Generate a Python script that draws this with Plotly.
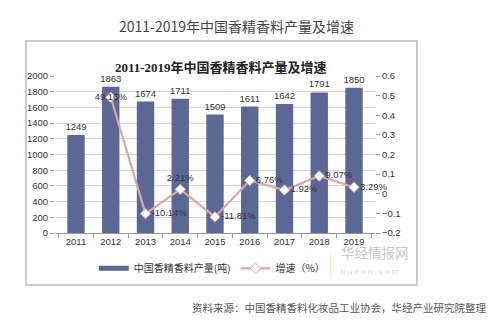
import plotly.graph_objects as go

# Annual output of flavours & fragrances in China and its year-on-year growth
years = ["2011", "2012", "2013", "2014", "2015", "2016", "2017", "2018", "2019"]
output_tons = [1249, 1863, 1674, 1711, 1509, 1611, 1642, 1791, 1850]
growth = [None, 0.4916, -0.1014, 0.0221, -0.1181, 0.0676, 0.0192, 0.0907, 0.0329]
growth_labels = ["", "49.16%", "-10.14%", "2.21%", "-11.81%", "6.76%", "1.92%", "9.07%", "3.29%"]
growth_label_pos = ["middle right", "middle center", "middle right", "top center", "middle right",
                    "middle right", "middle right", "middle right", "middle right"]

BAR_COLOR = "#5b6896"
LINE_COLOR = "#d8a8a8"
CJK = "Noto Sans CJK SC, Liberation Sans, sans-serif"
LAT = "Liberation Sans, Arial, sans-serif"

fig = go.Figure()

fig.add_trace(go.Bar(
    x=years, y=output_tons, name="中国香精香料产量(吨)",
    marker=dict(color=BAR_COLOR, line=dict(width=0)),
    text=[str(v) for v in output_tons], textposition="outside", constraintext="none",
    textfont=dict(family=LAT, size=9.5, color="#333"),
    cliponaxis=False, showlegend=False, yaxis="y",
))
# legend stand-in for the bars (flat rectangle symbol)
fig.add_trace(go.Scatter(
    x=[None], y=[None], mode="lines", name="中国香精香料产量(吨)",
    line=dict(color=BAR_COLOR, width=5), yaxis="y",
))
fig.add_trace(go.Scatter(
    x=years, y=growth, name="增速（%）", mode="lines+markers+text",
    line=dict(color=LINE_COLOR, width=2.2),
    marker=dict(symbol="diamond", size=8, color="white", line=dict(color=LINE_COLOR, width=1)),
    text=growth_labels, textposition=growth_label_pos,
    textfont=dict(family=LAT, size=9.5, color="#333"),
    cliponaxis=False, yaxis="y2",
))

fig.update_layout(
    width=499, height=334,
    margin=dict(l=55, r=124, t=76, b=101),
    paper_bgcolor="white", plot_bgcolor="white",
    bargap=0.5,
    showlegend=True,
    legend=dict(orientation="h", x=0.49, xanchor="center", y=-0.225, yanchor="middle",
                font=dict(family=CJK, size=10, color="#333"), itemwidth=30,
                tracegroupgap=0, traceorder="normal"),
    xaxis=dict(
        type="category", showgrid=False, showline=True, linecolor="#999", linewidth=1,
        ticks="outside", tickson="boundaries", ticklen=4, tickcolor="#999",
        tickfont=dict(family=LAT, size=9.5, color="#333"),
    ),
    yaxis=dict(
        range=[0, 2000], dtick=200, showgrid=True, gridcolor="#d4d4d4", gridwidth=1,
        zeroline=False, showline=False, ticks="outside", ticklen=4, tickcolor="#999",
        tickfont=dict(family=LAT, size=9.5, color="#333"),
    ),
    yaxis2=dict(
        overlaying="y", side="right", range=[-0.2, 0.6], dtick=0.1, showgrid=False,
        zeroline=False, showline=False, ticks="outside", ticklen=4, tickcolor="#999",
        tickformat=".1~f", tickfont=dict(family=LAT, size=9.5, color="#333"),
    ),
)

# frame around the inner chart
fig.add_shape(type="rect", xref="paper", yref="paper",
              x0=-0.0906, x1=1.131, y0=-0.331, y1=1.223,
              line=dict(color="#bdbdbd", width=1.5), fillcolor="rgba(0,0,0,0)", layer="below")

fig.add_annotation(text="2011-2019年中国香精香料产量及增速", xref="paper", yref="paper",
                   x=0.566, y=1.395, showarrow=False,
                   font=dict(family=CJK, size=14, color="#444"))
fig.add_annotation(text="<b>2011-2019年中国香精香料产量及增速</b>", xref="paper", yref="paper",
                   x=0.519, y=1.115, showarrow=False,
                   font=dict(family="Liberation Serif, Noto Sans CJK SC, serif", size=13, color="#222"))
fig.add_annotation(text="资料来源：中国香精香料化妆品工业协会，华经产业研究院整理",
                   xref="paper", yref="paper", x=1.353, y=-0.535, xanchor="right",
                   showarrow=False, font=dict(family=CJK, size=10.5, color="#555"))

# watermark: book icon plus site name
fig.add_shape(type="path", xref="paper", yref="paper",
              path="M 0.797,-0.13 L 0.828,-0.165 L 0.828,-0.315 L 0.797,-0.28 Z",
              fillcolor="rgba(140,185,235,0.55)", line=dict(width=0))
fig.add_shape(type="path", xref="paper", yref="paper",
              path="M 0.828,-0.165 L 0.862,-0.13 L 0.862,-0.28 L 0.828,-0.315 Z",
              fillcolor="rgba(245,215,120,0.6)", line=dict(width=0))
fig.add_annotation(text="华经情报网", xref="paper", yref="paper", x=0.89, y=-0.19,
                   xanchor="left", showarrow=False, borderpad=0,
                   font=dict(family=CJK, size=13.5, color="#c8c8c8"))
fig.add_annotation(text="h u a o n . c o m", xref="paper", yref="paper", x=0.89, y=-0.28,
                   xanchor="left", showarrow=False, borderpad=0,
                   font=dict(family=LAT, size=8, color="#d6d6d6"))

fig.write_html("out.html")
